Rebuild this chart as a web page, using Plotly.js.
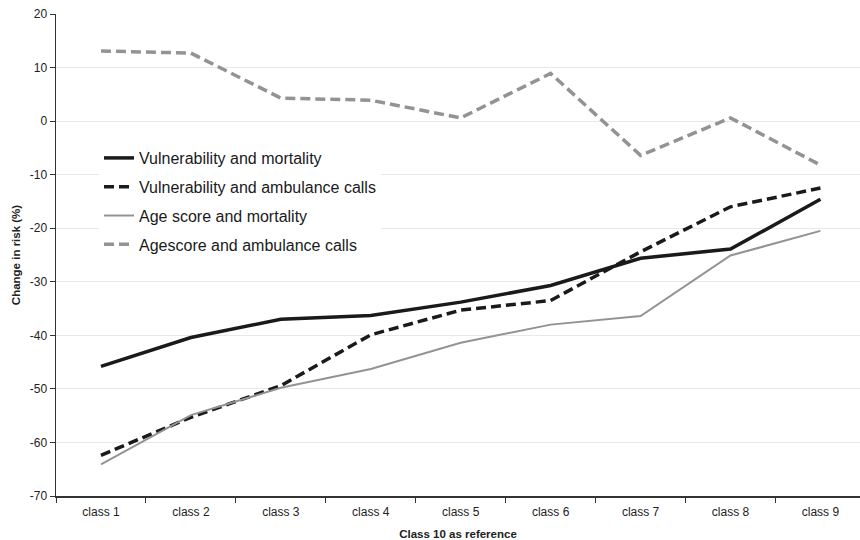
<!DOCTYPE html>
<html>
<head>
<meta charset="utf-8">
<script src="https://cdn.plot.ly/plotly-3.0.1.min.js"></script>
<style>html,body{margin:0;padding:0;background:#fff;overflow:hidden}#chart{width:860px;height:540px}</style>
</head>
<body>
<div id="chart"></div>
<script>
const categories = ["class 1","class 2","class 3","class 4","class 5","class 6","class 7","class 8","class 9"];
const vulnMortality = [-45.8, -40.4, -37.0, -36.3, -33.8, -30.7, -25.6, -23.9, -14.6];
const vulnAmbulance = [-62.4, -55.3, -49.4, -39.9, -35.3, -33.5, -24.4, -16.0, -12.5];
const ageMortality = [-64.1, -54.9, -49.8, -46.3, -41.4, -38.0, -36.4, -25.1, -20.5];
const ageAmbulance = [13.1, 12.7, 4.3, 3.9, 0.6, 8.9, -6.4, 0.6, -8.2];
const seriesNames = ["Vulnerability and mortality","Vulnerability and ambulance calls","Age score and mortality","Agescore and ambulance calls"];
const yTicks = [-70,-60,-50,-40,-30,-20,-10,0,10,20];

const traces = [
  {x: categories, y: vulnMortality, name: seriesNames[0], mode: "lines", line: {color: "#1a1a1a", width: 3.5}},
  {x: categories, y: vulnAmbulance, name: seriesNames[1], mode: "lines", line: {color: "#1a1a1a", width: 3.5, dash: "10px,5px"}},
  {x: categories, y: ageMortality, name: seriesNames[2], mode: "lines", line: {color: "#939393", width: 2}},
  {x: categories, y: ageAmbulance, name: seriesNames[3], mode: "lines", line: {color: "#939393", width: 3.5, dash: "10px,5px"}}
].map((t, i) => Object.assign(t, {legendgroup: "g" + i, hoverinfo: "skip"}));

const layout = {
  width: 860, height: 540,
  margin: {l: 56, r: 0, t: 14, b: 44},
  paper_bgcolor: "#fff", plot_bgcolor: "#fff",
  font: {family: "Liberation Sans, Arial, sans-serif", size: 12, color: "#222"},
  showlegend: true,
  legend: {
    x: 0.0535, xanchor: "left", y: 0.7365, yanchor: "top",
    bgcolor: "#fff", borderwidth: 0,
    font: {size: 16, color: "#1a1a1a"},
    traceorder: "grouped", tracegroupgap: 5
  },
  xaxis: {
    type: "category", range: [-0.5, 8.44],
    showline: true, linecolor: "#333", linewidth: 1.5,
    ticks: "outside", tickson: "boundaries", ticklen: 5, tickcolor: "#333",
    ticklabelstandoff: 4,
    showgrid: false, zeroline: false,
    tickfont: {size: 12, color: "#222"},
    title: {text: "<b>Class 10 as reference</b>", font: {size: 11.5, color: "#222"}, standoff: 12}
  },
  yaxis: {
    range: [-70, 20], tickvals: yTicks, ticktext: yTicks.map(String),
    showline: true, linecolor: "#333", linewidth: 1.5,
    ticks: "outside", ticklen: 5, tickcolor: "#333",
    showgrid: true, gridcolor: "#e8e8e8", gridwidth: 1, zeroline: false,
    tickfont: {size: 12, color: "#222"},
    title: {text: "<b>Change in risk (%)</b>", font: {size: 11.5, color: "#222"}, standoff: 6}
  }
};

Plotly.newPlot("chart", traces, layout, {displayModeBar: false, staticPlot: true});
</script>
</body>
</html>
